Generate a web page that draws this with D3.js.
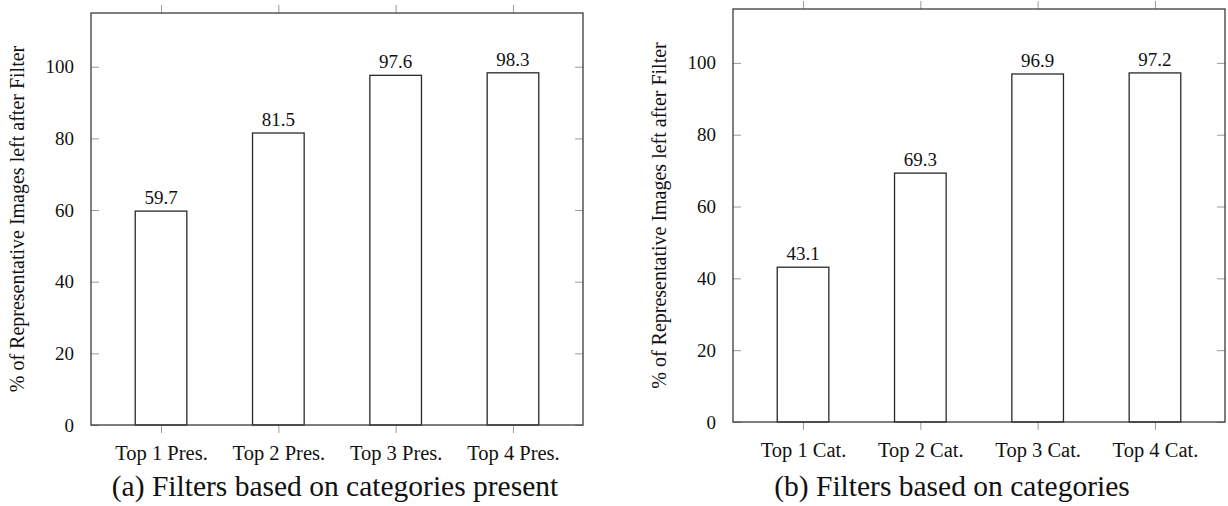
<!DOCTYPE html>
<html>
<head>
<meta charset="utf-8">
<script src="https://cdn.jsdelivr.net/npm/d3@7"></script>
<style>
  html, body { margin: 0; padding: 0; background: #fff; }
  svg text { font-family: "Liberation Serif", serif; fill: #111; }
</style>
</head>
<body>
<svg id="chart" width="1228" height="506"></svg>
<script>
const categoriesA = ["Top 1 Pres.", "Top 2 Pres.", "Top 3 Pres.", "Top 4 Pres."];
const valuesA = [59.7, 81.5, 97.6, 98.3];
const categoriesB = ["Top 1 Cat.", "Top 2 Cat.", "Top 3 Cat.", "Top 4 Cat."];
const valuesB = [43.1, 69.3, 96.9, 97.2];
const yTicks = [0, 20, 40, 60, 80, 100];
const yMax = 115;
const yLabel = "% of Representative Images left after Filter";
const captionA = "(a) Filters based on categories present";
const captionB = "(b) Filters based on categories";

const svg = d3.select("#chart");
const FONT = "'Liberation Serif', serif";

const panels = [
  { cats: categoriesA, vals: valuesA, caption: captionA, x0: 91, x1: 583, y0: 13, y1: 425, capX: 335 },
  { cats: categoriesB, vals: valuesB, caption: captionB, x0: 733, x1: 1225, y0: 9, y1: 422, capX: 952 }
];

const frameColor = "#3a3a3a";
const tickColor = "#9a9a9a";
const tickLen = 8;

panels.forEach(p => {
  const g = svg.append("g");
  const x = d3.scalePoint().domain(p.cats).range([p.x0, p.x1]).padding(0.597);
  const y = d3.scaleLinear().domain([0, yMax]).range([p.y1, p.y0]);
  const barW = x.step() * 0.44;

  const yAxisL = d3.axisLeft(y).tickValues(yTicks).tickSize(-tickLen).tickPadding(tickLen + 9);
  const yAxisR = d3.axisRight(y).tickValues(yTicks).tickSize(-tickLen).tickFormat("");
  const gl = g.append("g").attr("transform", `translate(${p.x0},0)`).call(yAxisL);
  const gr = g.append("g").attr("transform", `translate(${p.x1},0)`).call(yAxisR);
  const xAxisB = d3.axisBottom(x).tickSize(tickLen).tickPadding(12);
  const xAxisT = d3.axisTop(x).tickSize(tickLen).tickFormat("");
  const gb = g.append("g").attr("transform", `translate(0,${p.y1})`).call(xAxisB);
  const gt = g.append("g").attr("transform", `translate(0,${p.y0})`).call(xAxisT);

  [gl, gr, gb, gt].forEach(a => {
    a.attr("font-family", null).attr("font-size", null);
    a.select(".domain").remove();
    a.selectAll(".tick line").attr("stroke", tickColor).attr("stroke-width", 1);
    a.selectAll(".tick text").style("font-family", FONT).style("fill", "#111");
  });
  gl.selectAll(".tick text").style("font-size", "19px");
  gb.selectAll(".tick text").style("font-size", "20.5px");

  g.selectAll("rect.bar").data(p.vals).join("rect")
    .attr("class", "bar")
    .attr("x", (d, i) => x(p.cats[i]) - barW / 2)
    .attr("y", d => y(d))
    .attr("width", barW)
    .attr("height", d => y(0) - y(d))
    .attr("fill", "#fff")
    .attr("stroke", "#2a2a2a")
    .attr("stroke-width", 1.3);

  g.selectAll("text.val").data(p.vals).join("text")
    .attr("class", "val")
    .attr("x", (d, i) => x(p.cats[i]))
    .attr("y", d => y(d) - 7)
    .attr("text-anchor", "middle")
    .style("font-family", FONT)
    .style("font-size", "19px")
    .text(d => d.toFixed(1));

  g.append("rect")
    .attr("x", p.x0).attr("y", p.y0)
    .attr("width", p.x1 - p.x0).attr("height", p.y1 - p.y0)
    .attr("fill", "none").attr("stroke", frameColor).attr("stroke-width", 1.3);

  g.append("text")
    .attr("transform", `translate(${p.x0 - 67},${(p.y0 + p.y1) / 2}) rotate(-90)`)
    .attr("text-anchor", "middle")
    .style("font-family", FONT)
    .style("font-size", "20px")
    .text(yLabel);

  g.append("text")
    .attr("x", p.capX).attr("y", 496)
    .attr("text-anchor", "middle")
    .style("font-family", FONT)
    .style("font-size", "29.5px")
    .text(p.caption);
});
</script>
</body>
</html>
